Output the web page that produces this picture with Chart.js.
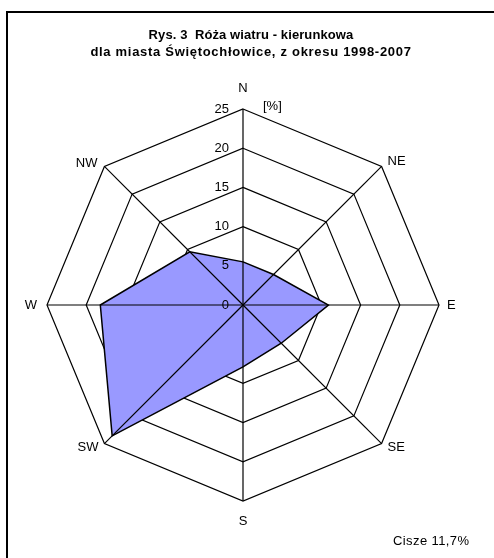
<!DOCTYPE html>
<html>
<head>
<meta charset="utf-8">
<script src="https://cdn.jsdelivr.net/npm/chart.js@4.4.1/dist/chart.umd.min.js"></script>
<style>
  html, body { margin: 0; padding: 0; background: #fff; }
  #wrap { position: relative; width: 494px; height: 558px; overflow: hidden; font-family: "Liberation Sans", Arial, sans-serif; }
  #frame { position: absolute; left: 6px; top: 11px; width: 500px; height: 560px; border: 2px solid #000; box-sizing: border-box; }
  #title { position: absolute; left: 0; top: 26px; width: 502px; text-align: center; font-weight: bold; font-size: 13px; line-height: 17px; color: #000; }
  #title .l1 { letter-spacing: 0.1px; }
  #title .l2 { letter-spacing: 0.7px; }
  #calm { position: absolute; left: 393px; top: 533px; font-size: 13px; letter-spacing: 0.4px; color: #000; }
  canvas { position: absolute; left: 0; top: 0; }
</style>
</head>
<body>
<div id="wrap">
  <div id="frame"></div>
  <canvas id="rose" width="494" height="558"></canvas>
  <div id="title"><span class="l1">Rys. 3&nbsp; Róża wiatru - kierunkowa</span><br><span class="l2">dla miasta Świętochłowice, z okresu 1998-2007</span></div>
  <div id="calm">Cisze 11,7%</div>
</div>
<script>
// kierunki i udział procentowy
const directions = ["N", "NE", "E", "SE", "S", "SW", "W", "NW"];
const frequency = [5.5, 5.5, 10.9, 6.9, 7.9, 23.6, 18.2, 9.6];
const tickValues = [0, 5, 10, 15, 20, 25];
const unitLabel = "[%]";

// etykiety kierunkow, osie i wartosci rysowane nad wypelnieniem
const roseOverlay = {
  id: "roseOverlay",
  afterDatasetsDraw(chart) {
    const scale = chart.scales.r;
    const ctx = chart.ctx;
    const cx = scale.xCenter, cy = scale.yCenter;
    ctx.save();

    // osie
    ctx.strokeStyle = "#000";
    ctx.lineWidth = 1.2;
    directions.forEach((d, i) => {
      const p = scale.getPointPosition(i, scale.drawingArea);
      ctx.beginPath();
      ctx.moveTo(cx, cy);
      ctx.lineTo(p.x, p.y);
      ctx.stroke();
    });

    ctx.font = "13px 'Liberation Sans', Arial, sans-serif";
    ctx.fillStyle = "#000";

    // wartosci na osi N
    ctx.textAlign = "right";
    ctx.textBaseline = "middle";
    tickValues.forEach((v) => {
      const dist = scale.getDistanceFromCenterForValue(v);
      ctx.fillText(String(v), cx - 14, cy - dist);
    });
    ctx.textAlign = "left";
    ctx.fillText(unitLabel, cx + 20, cy - scale.drawingArea - 3);

    // nazwy kierunkow
    const offs = [
      [0, -21, "center"], [6, -5, "left"], [8, 0, "left"], [6, 4, "left"],
      [0, 20, "center"], [-6, 4, "right"], [-10, 0, "right"], [-7, -3, "right"]
    ];
    directions.forEach((d, i) => {
      const p = scale.getPointPosition(i, scale.drawingArea);
      const o = offs[i];
      ctx.textAlign = o[2];
      ctx.fillText(d, p.x + o[0], p.y + o[1]);
    });
    ctx.restore();
  }
};

new Chart(document.getElementById("rose"), {
  type: "radar",
  data: {
    labels: directions,
    datasets: [{
      data: frequency,
      backgroundColor: "#9999FF",
      borderColor: "#000",
      borderWidth: 1.5,
      pointRadius: 0,
      pointHoverRadius: 0,
      fill: true,
      tension: 0
    }]
  },
  options: {
    responsive: false,
    animation: false,
    devicePixelRatio: 1,
    layout: { padding: { left: 47, right: 55, top: 109, bottom: 57 } },
    plugins: { legend: { display: false }, tooltip: { enabled: false } },
    scales: {
      r: {
        min: 0,
        max: 25,
        startAngle: 0,
        ticks: { stepSize: 5, display: false },
        pointLabels: { display: false },
        angleLines: { display: false },
        grid: { circular: false, color: "#000", lineWidth: 1.2 }
      }
    }
  },
  plugins: [roseOverlay]
});
</script>
</body>
</html>
